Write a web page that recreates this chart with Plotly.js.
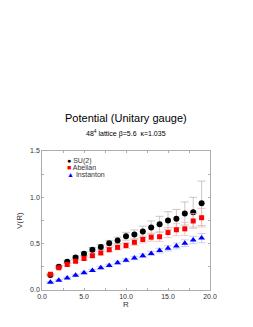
<!DOCTYPE html>
<html><head><meta charset="utf-8">
<script src="https://cdn.plot.ly/plotly-3.0.1.min.js"></script>
<style>html,body{margin:0;padding:0;background:#fff;}#chart{width:253px;height:327px;}</style>
</head><body><div id="chart"></div>
<script>
var R = [1,2,3,4,5,6,7,8,9,10,11,12,13,14,15,16,17,18,19];
var su2 = [0.162,0.25,0.305,0.35,0.39,0.435,0.465,0.505,0.535,0.58,0.6,0.63,0.675,0.71,0.75,0.77,0.825,0.84,0.935];
var su2Err = [0.01,0.012,0.015,0.018,0.02,0.023,0.026,0.03,0.035,0.042,0.048,0.06,0.07,0.085,0.095,0.1,0.125,0.16,0.24];
var abel = [0.17,0.24,0.275,0.31,0.34,0.37,0.40,0.435,0.46,0.48,0.515,0.545,0.57,0.575,0.62,0.65,0.66,0.745,0.78];
var abelErr = [0.008,0.01,0.012,0.014,0.016,0.018,0.02,0.023,0.026,0.03,0.034,0.038,0.043,0.05,0.055,0.065,0.07,0.08,0.1];
var inst = [0.083,0.105,0.13,0.16,0.185,0.21,0.24,0.265,0.295,0.32,0.345,0.37,0.395,0.425,0.45,0.475,0.505,0.54,0.56];
var instErr = [0.006,0.007,0.008,0.009,0.01,0.011,0.012,0.013,0.015,0.016,0.018,0.02,0.022,0.025,0.028,0.032,0.036,0.04,0.05];
var names = ['SU(2)','Abelian','Instanton'];

var traces = [
 {x:R, y:su2, name:names[0], mode:'markers', type:'scatter',
  marker:{symbol:'circle', size:6, color:'#000'},
  error_y:{type:'data', array:su2Err, visible:true, color:'#b0b0b0', thickness:0.7, width:4}},
 {x:R, y:abel, name:names[1], mode:'markers', type:'scatter',
  marker:{symbol:'square', size:5, color:'#ff0000'},
  error_y:{type:'data', array:abelErr, visible:true, color:'#f2b0b0', thickness:0.7, width:4}},
 {x:R, y:inst, name:names[2], mode:'markers', type:'scatter',
  marker:{symbol:'triangle-up', size:6, color:'#0000ff'},
  error_y:{type:'data', array:instErr, visible:true, color:'#b0b8f2', thickness:0.7, width:4}}
];

var ax = {showgrid:false, zeroline:false, showline:true, linecolor:'#999', linewidth:0.8,
  mirror:'ticks', ticks:'inside', ticklen:2, tickcolor:'#999', tickwidth:0.8,
  tickfont:{size:7, color:'#333', family:'Liberation Sans, Arial'}};

var layout = {
  width:253, height:327, margin:{l:42, r:43, t:151, b:37},
  paper_bgcolor:'#fff', plot_bgcolor:'#fff', showlegend:false,
  font:{family:'Liberation Sans, Arial', color:'#000'},
  xaxis:Object.assign({}, ax, {range:[0,20], tick0:0, dtick:5, tickformat:'.1f',
    minor:{dtick:2.5, ticks:'inside', ticklen:2, tickcolor:'#999'},
    title:{text:'R', font:{size:8, color:'#333'}, standoff:2}}),
  yaxis:Object.assign({}, ax, {range:[0,1.5], tick0:0, dtick:0.5, tickformat:'.1f',
    minor:{dtick:0.25, ticks:'inside', ticklen:2, tickcolor:'#999'},
    title:{text:'V(R)', font:{size:8, color:'#333'}, standoff:6}}),
  annotations:[
    {xref:'paper', yref:'paper', x:0.5, y:1, yshift:33, xanchor:'center', yanchor:'middle', showarrow:false,
     text:'Potential (Unitary gauge)', font:{size:11, color:'#000'}},
    {xref:'paper', yref:'paper', x:0.5, y:1, yshift:18, xanchor:'center', yanchor:'middle', showarrow:false,
     text:'48<sup>4</sup> lattice β=5.6  κ=1.035', font:{size:7, color:'#000'}},
    {xref:'paper', yref:'paper', x:0.135, y:0.928, xanchor:'left', yanchor:'middle', showarrow:false,
     text:'<span style="color:#000">●</span> '+names[0], font:{size:7, color:'#333'}},
    {xref:'paper', yref:'paper', x:0.135, y:0.878, xanchor:'left', yanchor:'middle', showarrow:false,
     text:'<span style="color:#ff0000">■</span> '+names[1], font:{size:7, color:'#333'}},
    {xref:'paper', yref:'paper', x:0.135, y:0.828, xanchor:'left', yanchor:'middle', showarrow:false,
     text:'<span style="color:#0000ff">▲</span> '+names[2], font:{size:7, color:'#333'}}
  ]
};
Plotly.newPlot('chart', traces, layout, {staticPlot:true, displayModeBar:false});
</script></body></html>
